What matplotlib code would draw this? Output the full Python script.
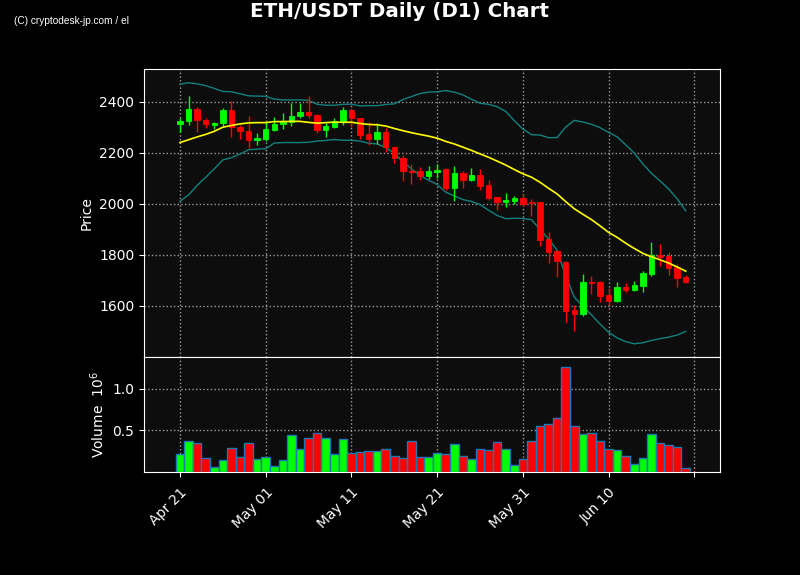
import numpy as np
import pandas as pd
import matplotlib
matplotlib.use("Agg")
import matplotlib.pyplot as plt
import matplotlib.dates as mdates

# ---------------- data ----------------
start_date = "2023-04-21"
n_days = 60

opens = [2311, 2323, 2373, 2330, 2310, 2315, 2369, 2302, 2287, 2249,
         2253, 2291, 2311, 2320, 2343, 2361, 2349, 2288, 2302, 2323,
         2369, 2337, 2275, 2255, 2283, 2224, 2181, 2129, 2130, 2108,
         2126, 2135, 2062, 2119, 2095, 2111, 2072, 2026, 2006, 2010,
         2021, 2006, 2006, 1862, 1815, 1772, 1584, 1568, 1694, 1694,
         1643, 1620, 1673, 1663, 1679, 1726, 1798, 1795, 1754, 1713]
highs = [2335, 2422, 2378, 2336, 2322, 2375, 2403, 2310, 2343, 2278,
         2322, 2340, 2356, 2395, 2395, 2421, 2352, 2318, 2336, 2378,
         2373, 2337, 2322, 2317, 2296, 2224, 2192, 2156, 2143, 2150,
         2157, 2140, 2149, 2128, 2140, 2138, 2095, 2026, 2043, 2032,
         2039, 2020, 2006, 1890, 1821, 1776, 1602, 1724, 1717, 1697,
         1670, 1694, 1692, 1698, 1737, 1849, 1841, 1811, 1763, 1720]
lows = [2283, 2309, 2280, 2296, 2293, 2306, 2263, 2254, 2220, 2231,
        2248, 2287, 2293, 2305, 2336, 2336, 2278, 2262, 2296, 2309,
        2300, 2254, 2231, 2235, 2202, 2160, 2090, 2076, 2094, 2098,
        2101, 2056, 2010, 2063, 2091, 2056, 2014, 1975, 1987, 2001,
        1993, 1954, 1835, 1770, 1714, 1539, 1503, 1562, 1646, 1614,
        1603, 1616, 1653, 1658, 1653, 1717, 1757, 1723, 1673, 1690]
closes = [2326, 2373, 2327, 2311, 2318, 2369, 2300, 2284, 2249, 2257,
          2294, 2314, 2322, 2345, 2361, 2347, 2288, 2306, 2324, 2369,
          2335, 2271, 2255, 2283, 2221, 2178, 2128, 2126, 2108, 2129,
          2134, 2062, 2119, 2095, 2111, 2070, 2023, 2007, 2014, 2021,
          2001, 2003, 1857, 1811, 1777, 1580, 1569, 1694, 1691, 1640,
          1619, 1673, 1663, 1681, 1729, 1798, 1793, 1749, 1710, 1695]
volumes_m = [0.216, 0.372, 0.348, 0.168, 0.060, 0.144, 0.288, 0.180, 0.348, 0.156,
             0.180, 0.072, 0.144, 0.444, 0.276, 0.408, 0.468, 0.408, 0.216, 0.396,
             0.228, 0.240, 0.252, 0.252, 0.276, 0.192, 0.168, 0.372, 0.180, 0.180,
             0.228, 0.216, 0.336, 0.192, 0.156, 0.276, 0.264, 0.360, 0.276, 0.084,
             0.156, 0.372, 0.552, 0.576, 0.648, 1.260, 0.552, 0.456, 0.468, 0.372,
             0.276, 0.264, 0.192, 0.096, 0.168, 0.456, 0.348, 0.324, 0.300, 0.048]

# 20-day MA / Bollinger values for the first 19 days (window reaches before the chart)
ma_early = [2240, 2251, 2262, 2272, 2284, 2300, 2307, 2313, 2317, 2318,
            2318, 2322, 2322, 2323, 2323, 2319, 2316, 2318, 2320]
upper_early = [2469, 2474, 2470, 2463, 2452, 2440, 2439, 2431, 2423, 2422,
               2421, 2410, 2407, 2407, 2407, 2405, 2390, 2386, 2386]
lower_early = [2010, 2035, 2072, 2104, 2137, 2172, 2181, 2195, 2212, 2214,
               2216, 2238, 2240, 2240, 2240, 2241, 2246, 2248, 2252]

tick_labels = ["Apr 21", "May 01", "May 11", "May 21", "May 31", "Jun 10", ""]

# ---------------- derived ----------------
dates = pd.date_range(start_date, periods=n_days, freq="D")
x = mdates.date2num(dates.to_pydatetime())
o = np.array(opens, float); h = np.array(highs, float)
l = np.array(lows, float); c = np.array(closes, float)
v = np.array(volumes_m, float)

cs = pd.Series(c)
roll_ma = cs.rolling(20).mean().to_numpy()
roll_sd = cs.rolling(20).std().to_numpy()
k = len(ma_early)
ma = np.concatenate([ma_early, roll_ma[k:]])
upper = np.concatenate([upper_early, (roll_ma + 2 * roll_sd)[k:]])
lower = np.concatenate([lower_early, (roll_ma - 2 * roll_sd)[k:]])

up = c >= o
GREEN = "#00ff00"
RED = "#ff0000"
colors = np.where(up, GREEN, RED)

# ---------------- figure ----------------
plt.rcParams["font.family"] = ["DejaVu Sans"]
fig = plt.figure(figsize=(8.0, 5.75), dpi=100, facecolor="black")
ax = fig.add_axes([0.18, 0.379, 0.72, 0.501])
axv = fig.add_axes([0.18, 0.179, 0.72, 0.200], sharex=ax)

for a in (ax, axv):
    a.set_facecolor("#0d0d0d")
    for s in a.spines.values():
        s.set_color("white")
    a.tick_params(colors="white", labelsize=10)
    a.grid(True, color="#9a9a9a", linestyle=":", linewidth=1.0)
    a.set_axisbelow(True)

# candles
ax.vlines(x, l, h, colors=colors, linewidth=1.0, zorder=3)
ax.bar(x, np.abs(c - o), bottom=np.minimum(o, c), width=0.62,
       color=colors, edgecolor=colors, linewidth=0.6, zorder=4)

ax.plot(x, upper, color="#138080", linewidth=1.0, zorder=2)
ax.plot(x, lower, color="#138080", linewidth=1.0, zorder=2)
ax.plot(x, ma, color="#ffff00", linewidth=1.2, zorder=5)

ax.set_ylim(1400, 2528)
ax.set_yticks([1600, 1800, 2000, 2200, 2400])
ax.set_ylabel("Price", color="white", fontsize=10)
ax.tick_params(axis="x", which="both", bottom=False, labelbottom=False)

# volume
axv.bar(x, v, width=1.0, color=colors, edgecolor="#1f77b4", linewidth=1.0, zorder=3)
axv.set_ylim(0, 1.38)
axv.set_yticks([0.5, 1.0])
axv.set_ylabel("Volume  $10^6$", color="white", fontsize=10)

ticks = mdates.date2num(pd.date_range(start_date, periods=len(tick_labels), freq="10D").to_pydatetime())
axv.set_xticks(ticks)
axv.set_xticklabels(tick_labels, rotation=45, ha="right", rotation_mode="anchor")
axv.tick_params(axis="x", pad=6)
axv.set_xlim(x[0] - 4.2, x[0] + 63.0)

fig.text(0.5, 0.997, "ETH/USDT Daily (D1) Chart", color="white", fontsize=14.3,
         fontweight="bold", ha="center", va="top")
fig.text(0.018, 0.963, "(C) cryptodesk-jp.com / el", color="white",
         fontsize=7.3, family=["Liberation Sans", "DejaVu Sans"], va="center")

fig.savefig("out.png", dpi=100, facecolor="black")
